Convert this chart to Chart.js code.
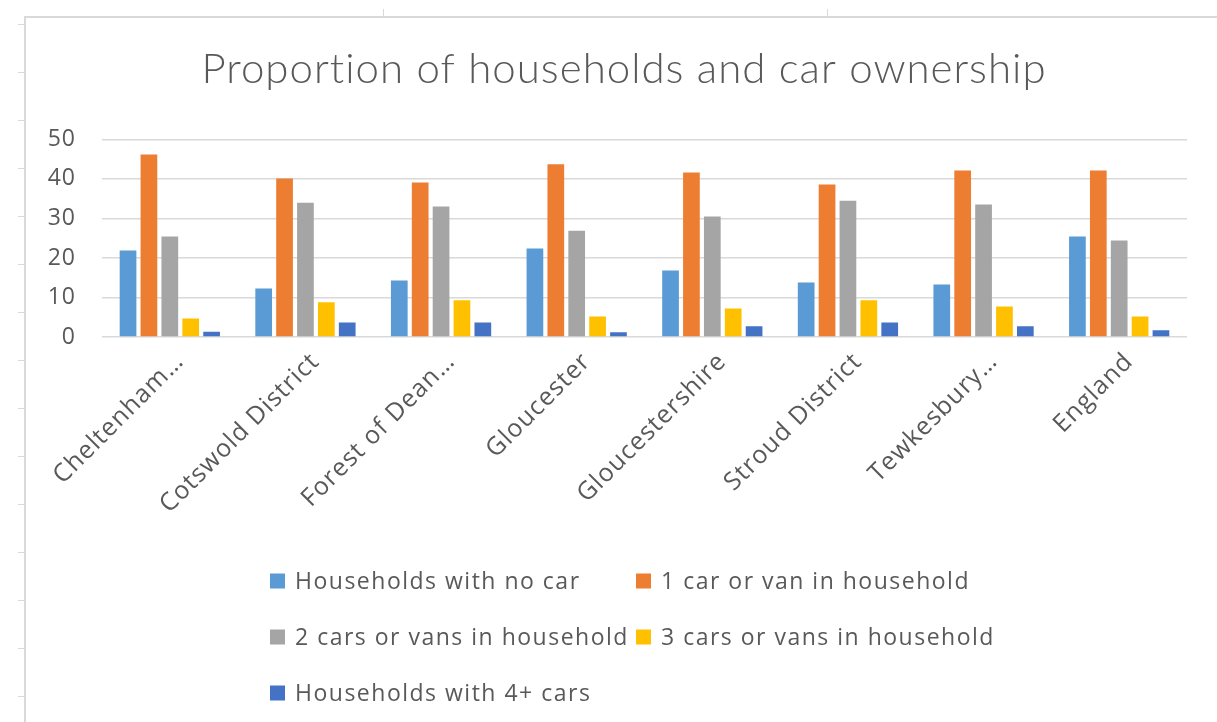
<!DOCTYPE html>
<html>
<head>
<meta charset="utf-8">
<title>Proportion of households and car ownership</title>
<script src="https://cdn.jsdelivr.net/npm/chart.js@4.4.1/dist/chart.umd.min.js"></script>
<style>
  html, body { margin: 0; padding: 0; background: #ffffff; overflow: hidden; }
  #wrap { position: relative; width: 1217px; height: 722px; }
  #chart { position: absolute; left: 0; top: 0; }
  .rule { position: absolute; background: #d9d9d9; }
</style>
</head>
<body>
<div id="wrap">
  <!-- sheet frame around the chart object -->
  <div class="rule" style="left:24px; top:16px; width:2px; height:706px;"></div>
  <div class="rule" style="left:24px; top:16px; width:1193px; height:2px;"></div>
  <div class="rule" style="left:383px; top:9px; width:1px; height:7px;"></div>
  <div class="rule" style="left:827px; top:9px; width:1px; height:7px;"></div>
  <div id="leftTicks"></div>
  <canvas id="chart" width="1217" height="722"></canvas>
</div>
<script>
// Areas and the share of households (%) by number of cars or vans
const categories = ['Cheltenham…', 'Cotswold District', 'Forest of Dean…', 'Gloucester',
                    'Gloucestershire', 'Stroud District', 'Tewkesbury…', 'England'];
const noCar     = [21.9, 12.3, 14.3, 22.4, 16.8, 13.8, 13.3, 25.4];
const oneCar    = [46.2, 40.1, 39.1, 43.7, 41.6, 38.6, 42.1, 42.1];
const twoCars   = [25.4, 34.0, 33.0, 26.9, 30.5, 34.5, 33.5, 24.4];
const threeCars = [4.7, 8.8, 9.3, 5.2, 7.2, 9.3, 7.7, 5.2];
const fourPlus  = [1.3, 3.7, 3.7, 1.2, 2.7, 3.7, 2.7, 1.7];

const seriesNames = ['Households with no car', '1 car or van in household',
                     '2 cars or vans in household', '3 cars or vans in household',
                     'Households with 4+ cars'];
const seriesValues = [noCar, oneCar, twoCars, threeCars, fourPlus];
const seriesColors = ['#5B9BD5', '#ED7D31', '#A5A5A5', '#FFC000', '#4472C4'];

const yTicks = [0, 10, 20, 30, 40, 50];

// small row markers along the left edge of the sheet
(function () {
  const holder = document.getElementById('leftTicks');
  for (let y = 24; y < 722; y += 48) {
    const d = document.createElement('div');
    d.className = 'rule';
    d.style.cssText = 'left:18px; top:' + y + 'px; width:6px; height:1px;';
    holder.appendChild(d);
  }
})();

const TEXT = '#595959';

// slightly open letter spacing for the chart text; the value axis keeps
// its labels inside a narrow box, so let its label area reach the canvas edge
const textSpacing = {
  id: 'textSpacing',
  beforeUpdate(chart, args, opts) { chart.ctx.letterSpacing = opts.spacing; },
  afterLayout(chart) { chart.scales.y.left = 0; },
  beforeDraw(chart, args, opts) { chart.ctx.letterSpacing = opts.spacing; }
};

// legend laid out as a fixed two-column grid under the axis labels
const gridLegend = {
  id: 'gridLegend',
  afterDraw(chart, args, opts) {
    const ctx = chart.ctx;
    ctx.save();
    ctx.font = opts.font;
    ctx.letterSpacing = opts.spacing;
    ctx.textBaseline = 'middle';
    ctx.textAlign = 'left';
    chart.data.datasets.forEach((ds, i) => {
      const col = i % opts.columns;
      const row = Math.floor(i / opts.columns);
      const x = opts.left + col * opts.colWidth;
      const y = opts.top + row * opts.rowHeight;
      ctx.fillStyle = ds.backgroundColor;
      ctx.fillRect(x, y - opts.box / 2, opts.box, opts.box);
      ctx.fillStyle = opts.color;
      ctx.fillText(ds.label, x + opts.box + opts.gap, y + 1);
    });
    ctx.restore();
  }
};

new Chart(document.getElementById('chart'), {
  type: 'bar',
  data: {
    labels: categories,
    datasets: seriesNames.map((name, i) => ({
      label: name,
      data: seriesValues[i],
      backgroundColor: seriesColors[i],
      borderWidth: 0,
      categoryPercentage: 0.77,
      barPercentage: 0.8
    }))
  },
  options: {
    responsive: false,
    animation: false,
    layout: { padding: { left: 61, right: 30, top: 0, bottom: 185 } },
    plugins: {
      legend: { display: false },
      tooltip: { enabled: false },
      textSpacing: { spacing: '1px' },
      title: {
        display: true,
        text: 'Proportion of households and car ownership',
        color: TEXT,
        font: { family: 'Lato, "Open Sans", sans-serif', size: 42, weight: 300, lineHeight: 1.2 },
        padding: { top: 44, bottom: 45 }
      },
      gridLegend: {
        left: 270, top: 581, columns: 2, colWidth: 366, rowHeight: 56,
        box: 15, gap: 10, color: TEXT, spacing: '1.5px',
        font: '23px "Open Sans", sans-serif'
      }
    },
    scales: {
      x: {
        grid: { display: false },
        border: { display: false },
        ticks: {
          color: TEXT,
          font: { family: '"Open Sans", sans-serif', size: 25 },
          minRotation: 45, maxRotation: 45,
          autoSkip: false,
          labelOffset: 10,
          padding: 2
        },
        afterFit(scale) { scale.height = 200; }
      },
      y: {
        min: 0, max: 50,
        afterBuildTicks(scale) { scale.ticks = yTicks.map(v => ({ value: v })); },
        grid: { color: '#d9d9d9', lineWidth: 1.5, drawTicks: false },
        border: { display: false },
        ticks: {
          color: TEXT,
          font: { family: '"Open Sans", sans-serif', size: 23 },
          padding: 26
        },
        afterFit(scale) { scale.width = 41; }
      }
    }
  },
  plugins: [textSpacing, gridLegend]
});
</script>
</body>
</html>
